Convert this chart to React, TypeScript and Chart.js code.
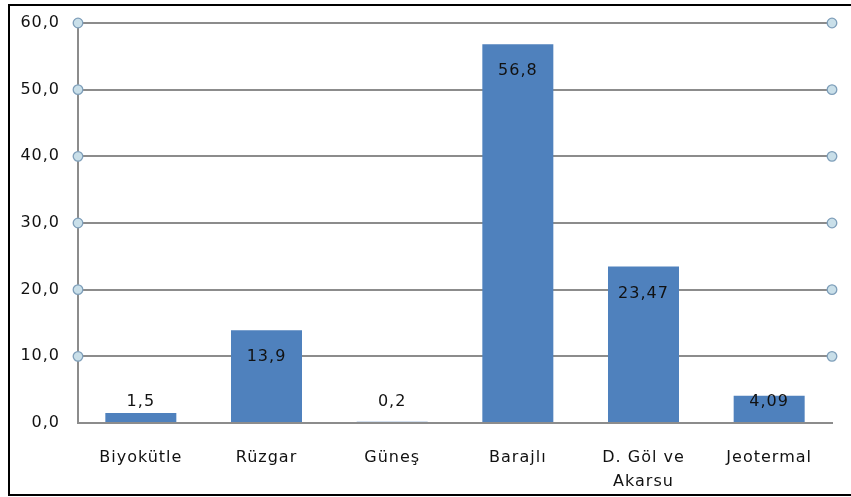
import React, { useEffect, useRef } from "react";
import { Chart, registerables } from "chart.js";

Chart.register(...registerables);

const categories: (string | string[])[] = ["Biyokütle", "Rüzgar", "Güneş", "Barajlı", ["D. Göl ve", "Akarsu"], "Jeotermal"];
const values: number[] = [1.5, 13.9, 0.2, 56.8, 23.47, 4.09];
const valueLabels: string[] = ["1,5", "13,9", "0,2", "56,8", "23,47", "4,09"];
const yTicks: number[] = [0, 10, 20, 30, 40, 50, 60];

const FONT = "'DejaVu Sans', sans-serif";
const FSIZE = 16;

const spacingPlugin = {
  id: "spacing",
  beforeInit(chart: any) {
    chart.ctx.letterSpacing = "1px";
  },
  beforeLayout(chart: any) {
    chart.ctx.letterSpacing = "1px";
  },
  beforeDraw(chart: any) {
    chart.ctx.letterSpacing = "1px";
  },
};

const markersPlugin = {
  id: "endMarkers",
  afterDraw(chart: any) {
    const { ctx, chartArea, scales } = chart;
    const y = scales.y;
    ctx.save();
    for (const t of yTicks) {
      if (t === 0) continue;
      const py = y.getPixelForValue(t);
      for (const px of [chartArea.left, chartArea.right]) {
        ctx.beginPath();
        ctx.arc(px, py, 4.8, 0, Math.PI * 2);
        ctx.fillStyle = "#c9dfe9";
        ctx.fill();
        ctx.lineWidth = 1.3;
        ctx.strokeStyle = "#7f9fba";
        ctx.stroke();
      }
    }
    ctx.restore();
  },
};

const labelsPlugin = {
  id: "barLabels",
  afterDatasetsDraw(chart: any) {
    const { ctx } = chart;
    const meta = chart.getDatasetMeta(0);
    ctx.save();
    ctx.font = `${FSIZE}px ${FONT}`;
    ctx.fillStyle = "#111";
    ctx.textAlign = "center";
    ctx.textBaseline = "middle";
    meta.data.forEach((bar: any, i: number) => {
      const ly = Math.min(bar.y + 27, bar.base - 20);
      ctx.fillText(valueLabels[i], bar.x, ly);
    });
    ctx.restore();
  },
};

export default function App() {
  const ref = useRef<HTMLCanvasElement>(null);
  useEffect(() => {
    document.body.style.margin = "0";
    const chart = new Chart(ref.current!, {
      type: "bar",
      data: {
        labels: categories,
        datasets: [
          {
            data: values,
            backgroundColor: "#4F81BD",
            barPercentage: 0.565,
            categoryPercentage: 1,
          },
        ],
      },
      options: {
        animation: false,
        responsive: false,
        layout: { padding: { left: 0, right: 19, top: 23, bottom: 0 } },
        plugins: { legend: { display: false }, tooltip: { enabled: false } },
        scales: {
          x: {
            grid: { display: false },
            border: { display: true, color: "#8c8c8c", width: 2 },
            ticks: {
              color: "#111",
              font: { family: FONT, size: FSIZE, lineHeight: 1.55 },
              padding: 14,
              maxRotation: 0,
              autoSkip: false,
            },
            afterFit: (s: any) => {
              s.height = 74;
            },
          },
          y: {
            min: 0,
            max: 60,
            ticks: {
              stepSize: 10,
              color: "#111",
              font: { family: FONT, size: FSIZE },
              padding: 18,
              callback: (v: any) => Number(v).toFixed(1).replace(".", ","),
            },
            grid: { color: "#8c8c8c", lineWidth: 2, drawTicks: false },
            border: { display: true, color: "#8c8c8c", width: 2 },
            afterFit: (s: any) => {
              s.width = 78;
              s.paddingTop = 0;
              s.paddingBottom = 0;
            },
          },
        },
      },
      plugins: [spacingPlugin, markersPlugin, labelsPlugin],
    });
    return () => chart.destroy();
  }, []);
  return (
    <div style={{ position: "relative", width: 851, height: 497, background: "#fff", overflow: "hidden" }}>
      <canvas ref={ref} width={851} height={497} style={{ display: "block" }} />
      <div
        style={{
          position: "absolute",
          left: 8,
          top: 4,
          width: 860,
          height: 488,
          border: "2px solid #000",
          pointerEvents: "none",
        }}
      />
    </div>
  );
}
